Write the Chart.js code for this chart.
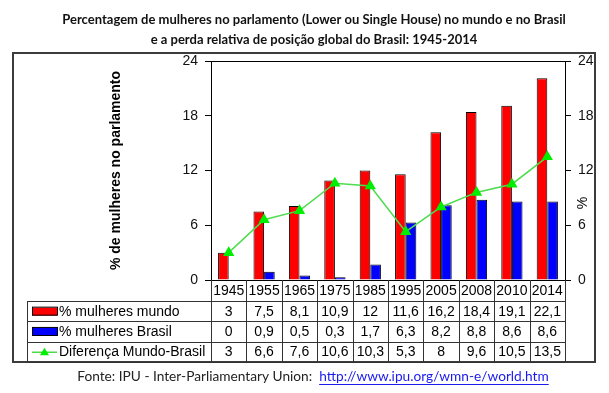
<!DOCTYPE html>
<html lang="pt-BR">
<head>
<meta charset="utf-8">
<title>Mulheres no parlamento</title>
<script src="https://cdn.jsdelivr.net/npm/chart.js@4.4.1/dist/chart.umd.min.js"></script>
<style>
  html, body { margin: 0; padding: 0; background: #fff; }
  #grafico { width: 609px; height: 393px; }
</style>
</head>
<body>
<div id="grafico"><canvas id="mulheresChart" width="609" height="393"></canvas></div>
<script>
const anos = ['1945', '1955', '1965', '1975', '1985', '1995', '2005', '2008', '2010', '2014'];
const mulheresMundo = [3, 7.5, 8.1, 10.9, 12, 11.6, 16.2, 18.4, 19.1, 22.1];
const mulheresBrasil = [0, 0.9, 0.5, 0.3, 1.7, 6.3, 8.2, 8.8, 8.6, 8.6];
const diferenca = [3, 6.6, 7.6, 10.6, 10.3, 5.3, 8, 9.6, 10.5, 13.5];
const ticksY = [0, 6, 12, 18, 24];

const titulo = [
  'Percentagem de mulheres no parlamento (Lower ou Single House) no mundo e no Brasil',
  'e a perda relativa de posição global do Brasil: 1945-2014'
];
const fonteTexto = 'Fonte: IPU - Inter-Parliamentary Union:  ';
const fonteLink = 'http://www.ipu.org/wmn-e/world.htm';

const fonteArial = 'Liberation Sans, Arial, sans-serif';
const fonteTitulo = 'Lato, Calibri, sans-serif';

// número com vírgula decimal, como na tabela original
const formata = v => String(v).replace('.', ',');

// Desenha título, moldura, caixa do gráfico, tabela de dados e rodapé
const tabelaPlugin = {
  id: 'tabela',
  afterDraw(chart) {
    const { ctx, chartArea: a } = chart;
    const x = chart.scales.x;
    const n = anos.length;
    const passo = (a.right - a.left) / n;
    const topoTabela = a.bottom + 21;
    const altLinha = 20.3;
    const fundo = topoTabela + altLinha * 3;
    const colLegenda = 27;

    ctx.save();
    // título em duas linhas
    ctx.font = 'bold 13px ' + fonteTitulo;
    ctx.fillStyle = '#111';
    ctx.textAlign = 'center';
    ctx.textBaseline = 'middle';
    ctx.fillText(titulo[0], 314, 20);
    ctx.fillText(titulo[1], 314, 40);

    // moldura externa
    ctx.strokeStyle = '#3c3c3c';
    ctx.lineWidth = 2;
    ctx.strokeRect(13, 53, 582, 309);

    // caixa da área do gráfico
    ctx.strokeStyle = '#000';
    ctx.lineWidth = 1;
    ctx.beginPath();
    ctx.moveTo(a.left, a.top + 0.5);
    ctx.lineTo(a.right, a.top + 0.5);
    ctx.stroke();

    // grade da tabela
    ctx.strokeStyle = '#333';
    ctx.beginPath();
    for (let i = 0; i <= n; i++) {
      const px = Math.round(a.left + i * passo) + 0.5;
      ctx.moveTo(px, a.bottom);
      ctx.lineTo(px, fundo);
    }
    ctx.moveTo(colLegenda + 0.5, topoTabela);
    ctx.lineTo(colLegenda + 0.5, fundo);
    for (let r = 0; r <= 3; r++) {
      const py = Math.round(topoTabela + r * altLinha) + 0.5;
      ctx.moveTo(colLegenda, py);
      ctx.lineTo(a.right, py);
    }
    ctx.stroke();

    // linhas de dados
    ctx.font = '14px ' + fonteArial;
    ctx.textBaseline = 'middle';
    chart.data.datasets.forEach((ds, r) => {
      const cy = topoTabela + r * altLinha + altLinha / 2 + 0.5;
      ctx.fillStyle = '#000';
      ctx.textAlign = 'center';
      ds.data.forEach((v, i) => {
        ctx.fillText(formata(v), x.getPixelForValue(i), cy);
      });
      // chave da legenda
      if (ds.type === 'line') {
        ctx.strokeStyle = ds.borderColor;
        ctx.lineWidth = 1.5;
        ctx.beginPath();
        ctx.moveTo(32, cy);
        ctx.lineTo(57, cy);
        ctx.stroke();
        ctx.fillStyle = ds.pointBackgroundColor;
        ctx.beginPath();
        ctx.moveTo(44.5, cy - 4.5);
        ctx.lineTo(49, cy + 3);
        ctx.lineTo(40, cy + 3);
        ctx.closePath();
        ctx.fill();
      } else {
        ctx.fillStyle = ds.backgroundColor;
        ctx.fillRect(32, cy - 4, 25, 8);
        ctx.strokeStyle = '#000';
        ctx.lineWidth = 1;
        ctx.strokeRect(32.5, cy - 4.5, 25, 8);
      }
      ctx.fillStyle = '#000';
      ctx.textAlign = 'left';
      ctx.fillText(ds.label, 59, cy);
    });

    // título do eixo direito
    ctx.save();
    ctx.translate(583, 203);
    ctx.rotate(-Math.PI / 2);
    ctx.font = '14px ' + fonteArial;
    ctx.textAlign = 'center';
    ctx.fillStyle = '#000';
    ctx.fillText('%', 0, 0);
    ctx.restore();

    // rodapé com a fonte
    ctx.font = '13.7px ' + fonteTitulo;
    ctx.textAlign = 'left';
    const w1 = ctx.measureText(fonteTexto).width;
    const w2 = ctx.measureText(fonteLink).width;
    const fx = 313 - (w1 + w2) / 2;
    const fy = 377;
    ctx.fillStyle = '#222';
    ctx.fillText(fonteTexto, fx, fy);
    ctx.fillStyle = '#1a1aee';
    ctx.fillText(fonteLink, fx + w1, fy);
    ctx.strokeStyle = '#1a1aee';
    ctx.lineWidth = 1;
    ctx.beginPath();
    ctx.moveTo(fx + w1, fy + 7.5);
    ctx.lineTo(fx + w1 + w2, fy + 7.5);
    ctx.stroke();
    ctx.restore();
  }
};

const ctx = document.getElementById('mulheresChart');
new Chart(ctx, {
  data: {
    labels: anos,
    datasets: [
      {
        type: 'bar',
        label: '% mulheres mundo',
        data: mulheresMundo,
        backgroundColor: '#ff0000',
        borderColor: '#000',
        borderWidth: 1,
        categoryPercentage: 0.6,
        barPercentage: 1,
        order: 2
      },
      {
        type: 'bar',
        label: '% mulheres Brasil',
        data: mulheresBrasil,
        backgroundColor: '#0000ff',
        borderColor: '#000',
        borderWidth: 1,
        categoryPercentage: 0.6,
        barPercentage: 1,
        order: 2
      },
      {
        type: 'line',
        label: 'Diferença Mundo-Brasil',
        data: diferenca,
        borderColor: '#4cdc4c',
        borderWidth: 1.5,
        pointStyle: 'triangle',
        pointRadius: 5,
        pointBackgroundColor: '#00ee00',
        pointBorderColor: '#00ee00',
        tension: 0,
        order: 0
      }
    ]
  },
  options: {
    responsive: false,
    animation: false,
    layout: { padding: { left: 13, right: 13, top: 61, bottom: 92 } },
    plugins: {
      legend: { display: false },
      tooltip: { enabled: false },
      title: { display: false }
    },
    scales: {
      x: {
        grid: { display: false, drawTicks: false },
        border: { display: true, color: '#000' },
        ticks: { color: '#000', font: { family: fonteArial, size: 14 }, padding: 3, maxRotation: 0 },
        afterFit: s => { s.height = 21; }
      },
      y: {
        position: 'left',
        min: 0,
        max: 24,
        afterBuildTicks: s => { s.ticks = ticksY.map(v => ({ value: v })); },
        grid: { drawOnChartArea: false, tickLength: 6, color: '#000' },
        border: { display: true, color: '#000' },
        ticks: { color: '#111', font: { family: fonteArial, size: 14 }, padding: 7 },
        title: {
          display: true,
          text: '% de mulheres no parlamento',
          color: '#000',
          font: { family: fonteArial, size: 14, weight: 'bold' },
          padding: { top: 95 }
        },
        afterFit: s => { s.width = 198; }
      },
      y2: {
        position: 'right',
        min: 0,
        max: 24,
        afterBuildTicks: s => { s.ticks = ticksY.map(v => ({ value: v })); },
        grid: { drawOnChartArea: false, tickLength: 6, color: '#000' },
        border: { display: true, color: '#000' },
        ticks: { color: '#111', font: { family: fonteArial, size: 14 }, padding: 7 },
        afterFit: s => { s.width = 31; }
      }
    }
  },
  plugins: [tabelaPlugin]
});
</script>
</body>
</html>
